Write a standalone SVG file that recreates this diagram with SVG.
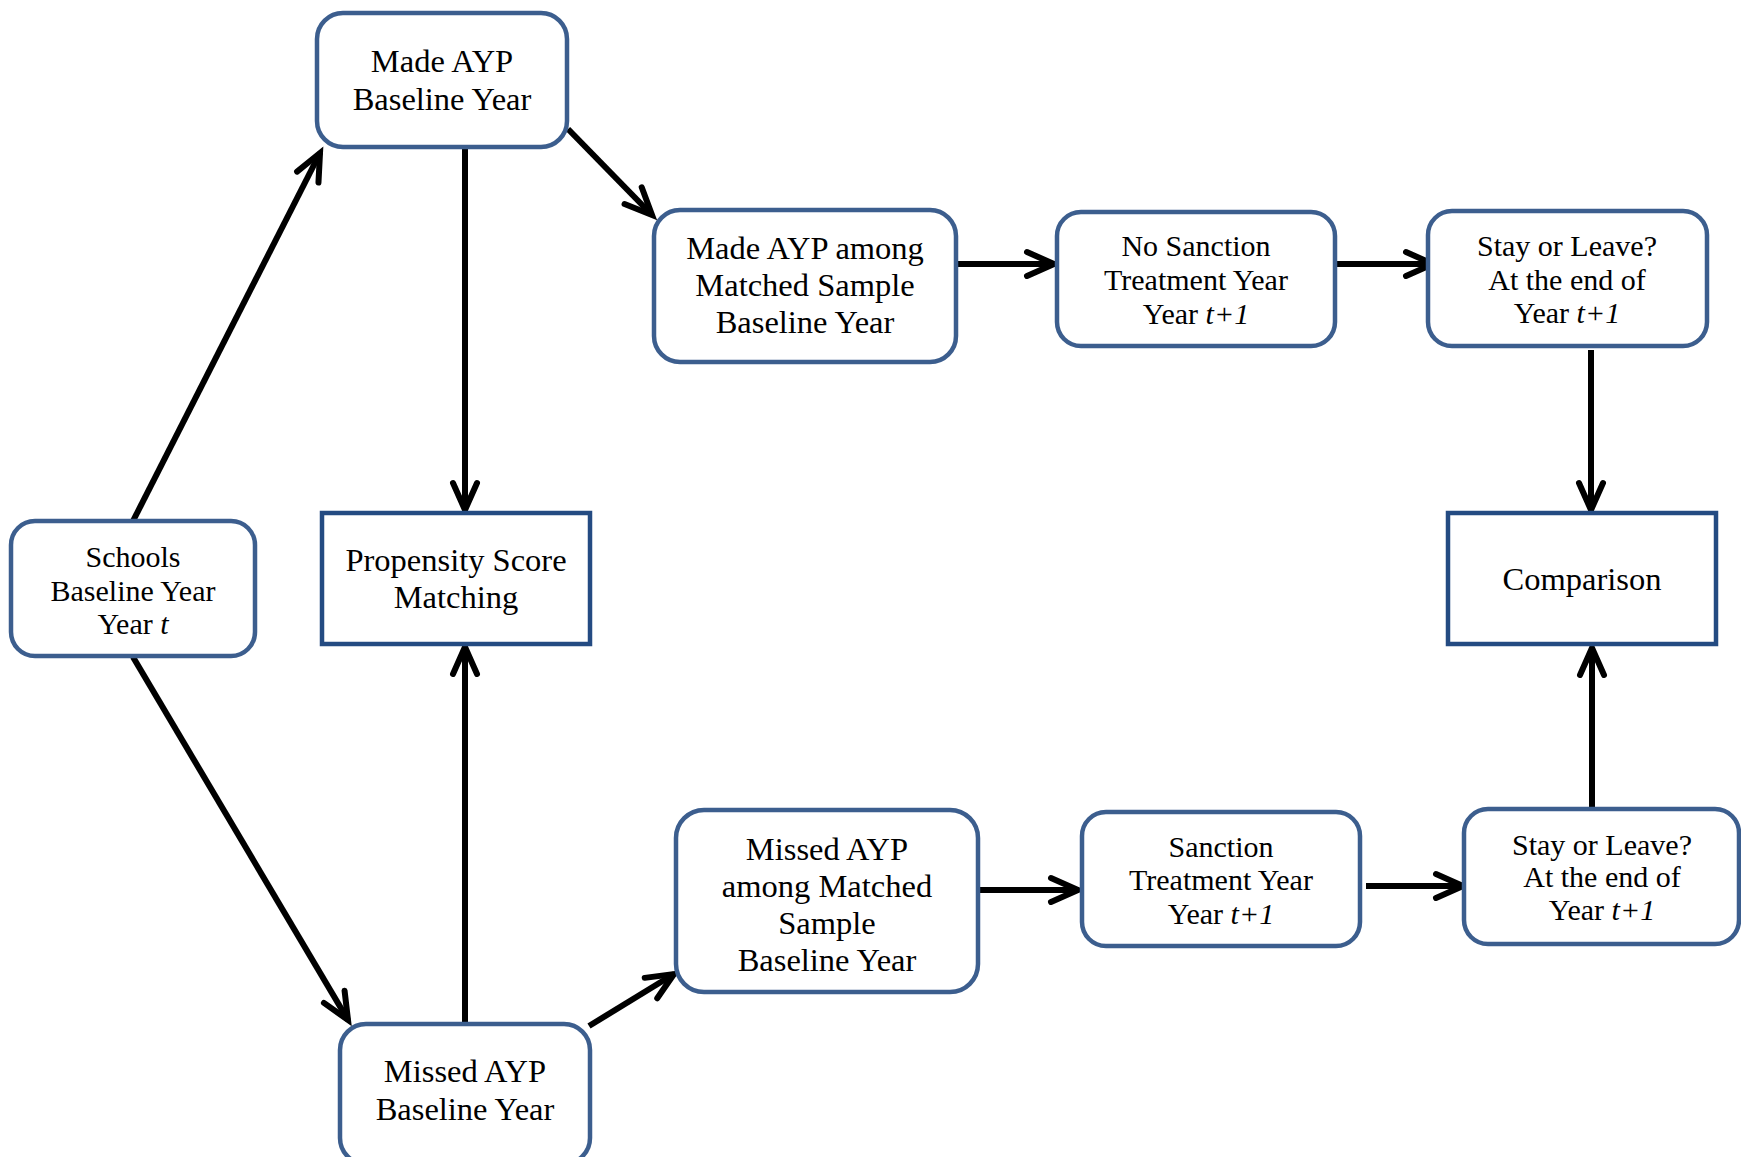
<svg xmlns="http://www.w3.org/2000/svg" width="1741" height="1157" viewBox="0 0 1741 1157">
<style>
.rb{fill:#fff;stroke:#3C5E8E;stroke-width:4.5}
.sq{fill:#fff;stroke:#244B82;stroke-width:4.5}
text{font-family:"Liberation Serif","Times New Roman",serif;fill:#000;text-anchor:middle}
.b{font-size:32.5px}
.s{font-size:30px}
.e{stroke:#000;stroke-width:6;fill:none;marker-end:url(#ah)}
</style>
<defs>
<marker id="ah" markerUnits="userSpaceOnUse" viewBox="-34 -18 38 36" refX="0" refY="0" markerWidth="38" markerHeight="36" orient="auto" overflow="visible">
<path d="M-27,-12 L0,0 L-27,12" fill="none" stroke="#000" stroke-width="6" stroke-linecap="round" stroke-linejoin="miter"/>
</marker>
</defs>
<rect width="1741" height="1157" fill="#fff"/>
<g id="connectors">
<line class="e" x1="133" y1="521" x2="320" y2="153"/>
<line class="e" x1="568" y1="129" x2="652" y2="215"/>
<line class="e" x1="465" y1="149" x2="465" y2="510"/>
<line class="e" x1="465" y1="1023" x2="465" y2="647"/>
<line class="e" x1="133" y1="657" x2="348" y2="1020"/>
<line class="e" x1="589" y1="1026" x2="674" y2="974"/>
<line class="e" x1="957" y1="264" x2="1054" y2="264"/>
<line class="e" x1="1336" y1="264" x2="1433" y2="264"/>
<line class="e" x1="1591" y1="350" x2="1591" y2="510"/>
<line class="e" x1="979" y1="890" x2="1078" y2="890"/>
<line class="e" x1="1366" y1="886" x2="1463" y2="886"/>
<line class="e" x1="1592" y1="807" x2="1592" y2="648"/>
</g>
<g id="schools">
<rect class="rb" x="11" y="521" width="244" height="135" rx="24"/>
<text class="s" x="133" y="567">Schools</text>
<text class="s" x="133" y="601">Baseline Year</text>
<text class="s" x="133" y="634">Year <tspan font-style="italic">t</tspan></text>
</g>
<g id="made-ayp">
<rect class="rb" x="317" y="13" width="250" height="134" rx="26"/>
<text class="b" x="442" y="72">Made AYP</text>
<text class="b" x="442" y="109.5">Baseline Year</text>
</g>
<g id="psm">
<rect class="sq" x="322" y="513" width="268" height="131"/>
<text class="b" x="456" y="571">Propensity Score</text>
<text class="b" x="456" y="608">Matching</text>
</g>
<g id="missed-ayp">
<rect class="rb" x="340" y="1024" width="250" height="140" rx="26"/>
<text class="b" x="465" y="1082">Missed AYP</text>
<text class="b" x="465" y="1120">Baseline Year</text>
</g>
<g id="made-matched">
<rect class="rb" x="654" y="210" width="302" height="152" rx="26"/>
<text class="b" x="805" y="259">Made AYP among</text>
<text class="b" x="805" y="296">Matched Sample</text>
<text class="b" x="805" y="333">Baseline Year</text>
</g>
<g id="no-sanction">
<rect class="rb" x="1057" y="212" width="278" height="134" rx="24"/>
<text class="s" x="1196" y="256">No Sanction</text>
<text class="s" x="1196" y="290">Treatment Year</text>
<text class="s" x="1196" y="324">Year <tspan font-style="italic">t+1</tspan></text>
</g>
<g id="stay-top">
<rect class="rb" x="1428" y="211" width="279" height="135" rx="24"/>
<text class="s" x="1567" y="256">Stay or Leave?</text>
<text class="s" x="1567" y="290">At the end of</text>
<text class="s" x="1567" y="323">Year <tspan font-style="italic">t+1</tspan></text>
</g>
<g id="comparison">
<rect class="sq" x="1448" y="513" width="268" height="131"/>
<text class="b" x="1582" y="590">Comparison</text>
</g>
<g id="missed-matched">
<rect class="rb" x="676" y="810" width="302" height="182" rx="28"/>
<text class="b" x="827" y="860">Missed AYP</text>
<text class="b" x="827" y="897">among Matched</text>
<text class="b" x="827" y="934">Sample</text>
<text class="b" x="827" y="971">Baseline Year</text>
</g>
<g id="sanction">
<rect class="rb" x="1082" y="812" width="278" height="134" rx="24"/>
<text class="s" x="1221" y="857">Sanction</text>
<text class="s" x="1221" y="890">Treatment Year</text>
<text class="s" x="1221" y="924">Year <tspan font-style="italic">t+1</tspan></text>
</g>
<g id="stay-bottom">
<rect class="rb" x="1464" y="809" width="275" height="135" rx="24"/>
<text class="s" x="1602" y="855">Stay or Leave?</text>
<text class="s" x="1602" y="887">At the end of</text>
<text class="s" x="1602" y="920">Year <tspan font-style="italic">t+1</tspan></text>
</g>
</svg>
